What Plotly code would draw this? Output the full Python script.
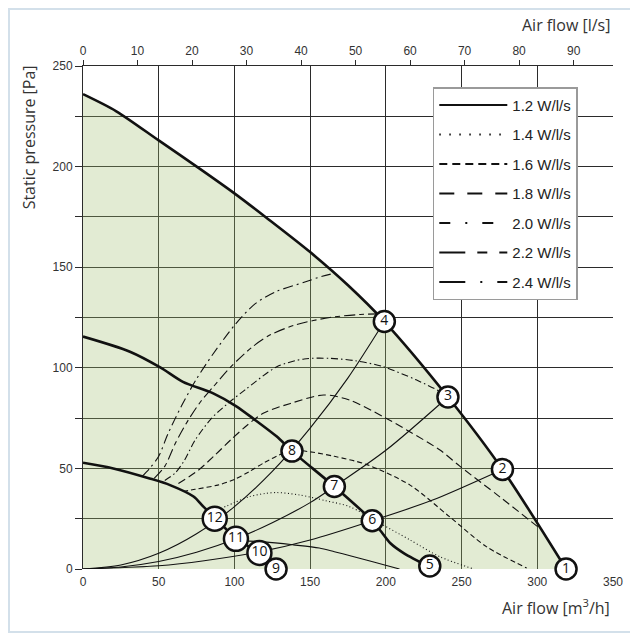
import plotly.graph_objects as go

# ---------------- data ----------------
# fan curves  (airflow m3/h, static pressure Pa)
fan_max_q = [0, 22, 50, 77, 100, 123, 150, 175, 199, 241, 277, 319]
fan_max_p = [236, 227.5, 213, 199, 186.7, 173.5, 157.5, 141, 123, 85.5, 49.5, 0]

fan_mid_q = [0, 31, 51, 66, 86, 101, 112, 128, 138, 166, 191, 197, 203, 212, 229]
fan_mid_p = [115.5, 108, 100.2, 93, 87.3, 81, 75, 65.8, 58.6, 41, 24, 18.5, 12.8, 7.8, 1]

fan_min_q = [0, 20, 44, 57.5, 73, 79.5, 88, 101, 116.5, 127.5]
fan_min_p = [52.8, 50, 45, 41.7, 36, 31, 25, 15, 8, 0]

# system curves
sys_a_q = [0, 25, 50, 75, 100, 125, 150, 175, 199]
sys_a_p = [0, 2, 7.8, 17.5, 31, 48.5, 70, 95, 123]
sys_b_q = [0, 25, 50, 75, 101, 125, 150, 166, 200, 241]
sys_b_p = [0, 1, 3.7, 8.3, 15, 23, 33, 41, 59, 85.5]
sys_c_q = [0, 50, 80, 116.5, 150, 191, 230, 277]
sys_c_p = [0, 1.6, 4.1, 8.5, 14.4, 24, 34, 49.5]

# specific fan power curves (W/l/s)
sfp_names = ["1.2 W/l/s", "1.4 W/l/s", "1.6 W/l/s", "1.8 W/l/s",
             "2.0 W/l/s", "2.2 W/l/s", "2.4 W/l/s"]
sfp12_q = [104, 120, 139, 156, 166, 177, 187, 198, 209]
sfp12_p = [14, 13.5, 12, 10.4, 8.6, 6.5, 4.5, 2.2, 0]
sfp14_q = [91, 100, 110, 120, 128, 143, 160, 176, 196, 216, 236, 258]
sfp14_p = [30, 33, 36, 37.5, 38, 36.8, 34, 31, 22.8, 14.4, 6, 0]
sfp16_q = [66, 74, 89, 100, 110, 120, 132, 138, 152, 166, 187, 216, 242, 266.6, 293]
sfp16_p = [38.5, 39.6, 41.7, 44.5, 48.5, 53, 57.5, 59, 58, 56, 52, 41.7, 26, 11, 0.5]
sfp18_q = [63, 76, 87, 98, 108, 119, 137, 159, 176, 198, 214, 236, 249, 275, 302]
sfp18_p = [42.5, 49, 56.5, 64.5, 71.2, 77.4, 82.3, 86.5, 84, 75.8, 69, 59, 51, 36, 20]
sfp20_q = [54, 61, 67, 74, 85, 96, 107, 128, 146, 163, 180, 198, 220, 236, 240]
sfp20_p = [44, 47.8, 54, 64, 75, 82.5, 89, 100.5, 104.4, 104.7, 103.5, 100.6, 94, 88, 85.5]
sfp22_q = [47, 54, 61, 69.5, 78, 86, 97, 112, 124, 141, 163, 183, 196]
sfp22_p = [45, 51, 62.5, 74, 83.5, 90.5, 100, 110.5, 116.5, 121.5, 125, 126.5, 126.8]
sfp24_q = [39, 44, 50, 56, 65, 75, 86, 101, 114, 128, 146, 158, 166]
sfp24_p = [46, 50, 56, 67, 81, 94.5, 107, 122, 132, 138, 142.5, 145.5, 147]

# numbered operating points
pt_q = [319, 277, 241, 199, 229, 191, 166, 138, 127.5, 116.5, 101, 87]
pt_p = [0, 49.5, 85.5, 123, 1.5, 24, 41, 58.6, 0, 8, 15, 25]
pt_labels = ["1", "2", "3", "4", "5", "6", "7", "8", "9", "10", "11", "12"]

# axis ticks
x_ticks = [0, 50, 100, 150, 200, 250, 300, 350]
y_ticks = [0, 25, 50, 75, 100, 125, 150, 175, 200, 225, 250]
y_ticktext = ["0", "", "50", "", "100", "", "150", "", "200", "", "250"]
ls_ticks = [0, 10, 20, 30, 40, 50, 60, 70, 80, 90]

# ---------------- styling ----------------
FILL = "rgba(160,190,110,0.30)"
INK = "#111111"
TICKFONT = dict(family="Liberation Sans, Arial", size=12, color="#333333")
TITLEFONT = dict(family="Open Sans", size=16, color="#333333")

sfp_series = [
    (sfp12_q, sfp12_p, "solid"),
    (sfp14_q, sfp14_p, "1px,2.5px"),
    (sfp16_q, sfp16_p, "5px,3px"),
    (sfp18_q, sfp18_p, "8px,4px"),
    (sfp20_q, sfp20_p, "7px,3px,1.5px,3px"),
    (sfp22_q, sfp22_p, "11px,4px,5px,4px"),
    (sfp24_q, sfp24_p, "10px,4px,2px,4px"),
]
legend_dash = ["solid", "1.5px,8.5px", "8px,5px", "15px,13px",
               "11px,15px,2px,15px", "26px,12px,10px,12px", "26px,15px,2px,15px"]

fig = go.Figure()

# green operating area under the max fan curve
fig.add_trace(go.Scatter(x=fan_max_q, y=fan_max_p, mode="lines",
                         line=dict(width=0, shape="spline", smoothing=0.8),
                         fill="tozeroy", fillcolor=FILL,
                         hoverinfo="skip", showlegend=False))

# system curves
for q, p in [(sys_a_q, sys_a_p), (sys_b_q, sys_b_p), (sys_c_q, sys_c_p)]:
    fig.add_trace(go.Scatter(x=q, y=p, mode="lines",
                             line=dict(color=INK, width=1.1, shape="spline", smoothing=0.8),
                             showlegend=False, hoverinfo="skip"))

# SFP curves
for (q, p, dash) in sfp_series:
    fig.add_trace(go.Scatter(x=q, y=p, mode="lines",
                             line=dict(color=INK, width=1.1, dash=dash,
                                       shape="spline", smoothing=0.8),
                             showlegend=False, hoverinfo="skip"))

# fan curves
for q, p in [(fan_max_q, fan_max_p), (fan_mid_q, fan_mid_p), (fan_min_q, fan_min_p)]:
    fig.add_trace(go.Scatter(x=q, y=p, mode="lines",
                             line=dict(color=INK, width=2.6, shape="spline", smoothing=0.8),
                             showlegend=False, hoverinfo="skip"))

# numbered points
fig.add_trace(go.Scatter(x=pt_q, y=pt_p, mode="markers+text", text=pt_labels,
                         textposition="middle center",
                         textfont=dict(family="Open Sans", size=14, color="#111111"),
                         marker=dict(size=[21 if len(t) == 1 else 24 for t in pt_labels],
                                     color="white", opacity=1,
                                     line=dict(color=INK, width=2.5)),
                         cliponaxis=False, showlegend=False, hoverinfo="skip"))

# legend entries
for i, name in enumerate(sfp_names):
    fig.add_trace(go.Scatter(x=[None], y=[None], mode="lines", name=name,
                             legendgroup=name,
                             line=dict(color=INK, width=2, dash=legend_dash[i])))

# secondary (l/s) axis carrier
fig.add_trace(go.Scatter(x=[0, 97.22], y=[None, None], xaxis="x2", mode="lines",
                         showlegend=False, hoverinfo="skip"))

fig.update_layout(
    width=630, height=631,
    margin=dict(l=75, r=25, t=58, b=70),
    paper_bgcolor="white", plot_bgcolor="white",
    font=TICKFONT,
    xaxis=dict(range=[0, 350], tickvals=x_ticks, showgrid=True,
               gridcolor="#2b2b2b", gridwidth=1, zeroline=False,
               showline=False, ticks="", tickfont=TICKFONT, ticklabelstandoff=4),
    xaxis2=dict(range=[0, 350 / 3.6], overlaying="x", side="top", anchor="y",
                tickvals=ls_ticks, showgrid=False, zeroline=False,
                showline=True, linecolor="#2b2b2b", linewidth=1,
                ticks="outside", ticklen=5, tickcolor="#2b2b2b",
                tickfont=TICKFONT),
    yaxis=dict(range=[0, 250], tickvals=y_ticks, ticktext=y_ticktext,
               showgrid=True, gridcolor="#2b2b2b", gridwidth=1, zeroline=False,
               showline=True, linecolor="#2b2b2b", linewidth=1,
               ticks="outside", ticklen=7, tickcolor="#2b2b2b",
               tickfont=TICKFONT),
    legend=dict(x=0.66, y=0.958, xanchor="left", yanchor="top",
                bgcolor="white", bordercolor="#9a9a9a", borderwidth=1.5,
                font=dict(family="Liberation Sans, Arial", size=15, color="#222222"),
                tracegroupgap=7, itemwidth=68),
    showlegend=True,
    annotations=[
        dict(text="Air flow [l/s]", xref="paper", yref="paper", x=0.998, y=1.081,
             xanchor="right", yanchor="middle", showarrow=False, font=TITLEFONT),
        dict(text="Air flow [m<sup>3</sup>/h]", xref="paper", yref="paper",
             x=0.998, y=-0.076, xanchor="right", yanchor="middle",
             showarrow=False, font=TITLEFONT),
        dict(text="Static pressure [Pa]", xref="paper", yref="paper",
             x=-0.102, y=0.858, xanchor="center", yanchor="middle", textangle=-90,
             showarrow=False, font=TITLEFONT),
    ],
    shapes=[
        dict(type="rect", xref="paper", yref="paper",
             x0=-0.1396, x1=1.034, y0=-0.1252, y1=1.1133,
             line=dict(color="#d3e0ea", width=2), fillcolor="rgba(0,0,0,0)",
             layer="below"),
    ],
)

fig.write_html("out.html")
